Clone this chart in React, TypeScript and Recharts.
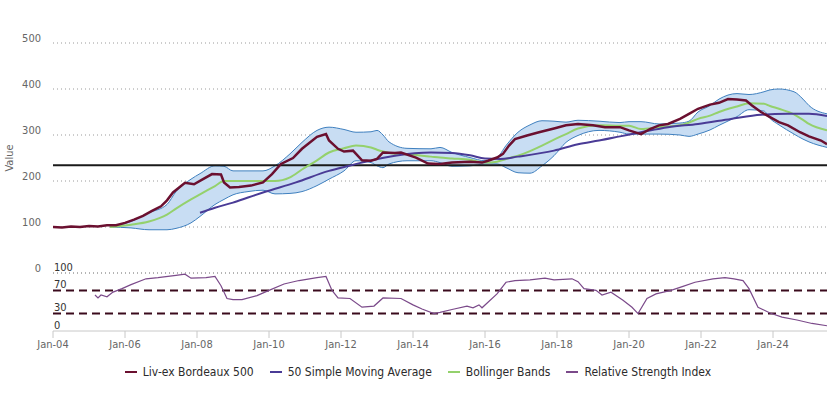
import React from "react";
import { Area, CartesianGrid, ComposedChart, Label, Legend, Line, ReferenceLine, XAxis, YAxis } from "recharts";

const FONT = '"DejaVu Sans Condensed", "DejaVu Sans", sans-serif';

// Liv-ex Bordeaux 500
const indexMonths = [
  "2004-01", "2004-04", "2004-07", "2004-10", "2005-01", "2005-04", "2005-07", "2005-10", "2006-01", "2006-04",
  "2006-07", "2006-10", "2007-01", "2007-03", "2007-05", "2007-09", "2007-12", "2008-03", "2008-06", "2008-09",
  "2008-10", "2008-12", "2009-03", "2009-07", "2009-11", "2010-02", "2010-05", "2010-09", "2010-12", "2011-05",
  "2011-08", "2011-09", "2011-12", "2012-02", "2012-05", "2012-08", "2012-11", "2013-01", "2013-03", "2013-07",
  "2013-09", "2014-02", "2014-06", "2014-10", "2015-02", "2015-08", "2015-12", "2016-02", "2016-05", "2016-07",
  "2016-09", "2016-11", "2017-03", "2017-07", "2017-12", "2018-04", "2018-08", "2019-01", "2019-05", "2019-10",
  "2020-01", "2020-05", "2020-08", "2020-11", "2021-02", "2021-06", "2021-09", "2021-12", "2022-04", "2022-07",
  "2022-10", "2023-01", "2023-04", "2023-06", "2023-09", "2023-12", "2024-03", "2024-06", "2024-10", "2025-01",
  "2025-05", "2025-07"
];
const indexValues = [
  100, 99, 101, 100, 102, 101, 104, 104, 109, 116,
  124, 135, 145, 158, 175, 196, 193, 204, 215, 214,
  197, 186, 187, 190, 197, 215, 237, 250, 270, 296,
  302, 288, 270, 264, 266, 245, 244, 248, 262, 261,
  262, 251, 238, 237, 240, 242, 240, 244, 251, 259,
  277, 291, 299, 306, 314, 321, 324, 321, 317, 317,
  310, 302, 313, 321, 324, 335, 346, 357, 366, 370,
  378, 377, 375, 364, 350, 339, 328, 321, 306, 297,
  288, 280
];

// 50 Simple Moving Average
const smaMonths = [
  "2008-02", "2008-07", "2009-01", "2009-06", "2009-11", "2010-10", "2011-09", "2012-03", "2012-08", "2013-07",
  "2014-07", "2015-02", "2015-08", "2016-01", "2016-06", "2016-12", "2017-12", "2018-08", "2019-03", "2019-10",
  "2020-05", "2021-02", "2021-12", "2022-11", "2023-09", "2024-06", "2025-01", "2025-07"
];
const smaValues = [
  131, 142, 153, 164, 175, 197, 222, 232, 240, 255,
  262, 261, 256, 249, 248, 253, 266, 280, 288, 297,
  306, 317, 324, 335, 344, 346, 346, 341
];

// Bollinger Bands
const bandMonths = [
  "2005-08", "2006-03", "2006-09", "2007-03", "2007-06", "2007-11", "2008-02", "2008-07", "2008-10", "2009-01",
  "2009-06", "2009-11", "2010-03", "2010-08", "2010-12", "2011-05", "2011-09", "2012-02", "2012-06", "2012-11",
  "2013-01", "2013-03", "2013-05", "2013-11", "2014-07", "2014-10", "2015-02", "2015-08", "2016-01", "2016-05",
  "2016-08", "2016-12", "2017-04", "2017-08", "2017-12", "2018-04", "2018-08", "2019-03", "2019-10", "2020-01",
  "2020-05", "2020-11", "2021-06", "2021-09", "2021-12", "2022-04", "2022-07", "2023-01", "2023-05", "2023-10",
  "2023-12", "2024-03", "2024-08", "2024-11", "2025-01", "2025-07"
];
const bandLower = [
  100, 98, 94, 94, 97, 109, 123, 149, 160, 170,
  177, 180, 172, 173, 177, 190, 204, 222, 244, 240,
  233, 229, 237, 244, 244, 240, 232, 233, 237, 237,
  229, 218, 217, 233, 255, 284, 299, 310, 306, 302,
  302, 302, 300, 297, 302, 311, 321, 340, 355, 352,
  336, 322, 302, 291, 285, 273
];
const bandMiddle = [
  100, 105, 112, 127, 140, 160, 171, 189, 200, 200,
  200, 200, 200, 208, 225, 245, 262, 271, 277, 273,
  268, 264, 261, 258, 253, 251, 249, 246, 240, 242,
  248, 255, 265, 277, 290, 302, 314, 321, 320, 320,
  313, 317, 321, 327, 335, 342, 350, 362, 369, 368,
  363, 357, 345, 333, 324, 310
];
const bandUpper = [
  100, 112, 131, 149, 177, 204, 216, 233, 232, 222,
  222, 222, 233, 259, 284, 310, 317, 312, 306, 307,
  310, 300, 285, 271, 270, 273, 262, 251, 244, 251,
  277, 306, 322, 331, 330, 328, 332, 330, 327, 329,
  329, 324, 326, 330, 350, 364, 378, 390, 388, 394,
  398, 400, 394, 378, 364, 346
];

// Relative Strength Index
const rsiMonths = [
  "2005-03", "2005-04", "2005-05", "2005-07", "2005-09", "2005-12", "2006-03", "2006-08", "2006-12", "2007-06",
  "2007-09", "2007-11", "2008-04", "2008-07", "2008-09", "2008-11", "2009-01", "2009-04", "2009-09", "2010-01",
  "2010-06", "2010-11", "2011-05", "2011-08", "2011-10", "2011-12", "2012-04", "2012-08", "2012-12", "2013-03",
  "2013-09", "2014-01", "2014-04", "2014-08", "2014-10", "2015-02", "2015-07", "2015-09", "2015-11", "2015-12",
  "2016-05", "2016-08", "2016-11", "2017-04", "2017-09", "2017-12", "2018-06", "2018-08", "2018-10", "2019-02",
  "2019-04", "2019-07", "2019-11", "2020-02", "2020-04", "2020-07", "2020-10", "2021-03", "2021-07", "2021-11",
  "2022-05", "2022-09", "2022-12", "2023-03", "2023-05", "2023-08", "2023-12", "2024-04", "2024-09", "2025-02",
  "2025-07"
];
const rsiValues = [
  62, 57, 62, 59, 67, 73, 80, 90, 92, 96,
  98, 91, 92, 94, 78, 56, 54, 54, 61, 70,
  81, 87, 92, 94, 70, 57, 56, 41, 43, 57,
  56, 45, 38, 30, 32, 37, 43, 40, 45, 40,
  64, 84, 87, 88, 91, 88, 90, 85, 73, 70,
  62, 67, 53, 41, 30, 56, 64, 70, 77, 84,
  90, 92, 90, 87, 73, 41, 31, 24, 19, 13,
  9
];

const xTickMonths = [
  "2004-01", "2006-01", "2008-01", "2010-01", "2012-01", "2014-01",
  "2016-01", "2018-01", "2020-01", "2022-01", "2024-01"
];
const valueTicks = [0, 100, 200, 300, 400, 500];
const rsiTicks = [0, 30, 70, 100];
const rsiLevels = [70, 30];
const baseline = 234;
const seriesNames = ["Liv-ex Bordeaux 500", "50 Simple Moving Average", "Bollinger Bands", "Relative Strength Index"];

const colors = {
  index: "#6b1030",
  sma: "#4a3b96",
  mid: "#94d16c",
  bandFill: "#c8ddf3",
  bandLine: "#3f80bf",
  rsi: "#7b4a8a",
  levels: "#3a0a1c",
  grid: "#9a9a9a"
};
const legendColors = [colors.index, colors.sma, colors.mid, colors.rsi];

const toYear = (m: string) => {
  const [y, mo] = m.split("-").map(Number);
  return y + (mo - 1) / 12;
};
const shortLabel = (t: number) => {
  const y = Math.round(t) % 100;
  return `Jan-${String(y).padStart(2, "0")}`;
};

const X_DOMAIN: [number, number] = [2004, 2025.5];

const indexData = indexMonths.map((m, i) => ({ t: toYear(m), value: indexValues[i] }));
const smaData = smaMonths.map((m, i) => ({ t: toYear(m), value: smaValues[i] }));
const bandData = bandMonths.map((m, i) => ({
  t: toYear(m),
  band: [bandLower[i], bandUpper[i]],
  mid: bandMiddle[i]
}));
const rsiData = rsiMonths.map((m, i) => ({ t: toYear(m), value: rsiValues[i] }));
const xTicks = xTickMonths.map(toYear);

function ValueTick({ x, y, payload }: any) {
  return (
    <text x={x} y={y - 5} textAnchor="end" dominantBaseline="central" fill="#666" fontSize={11} fontFamily={FONT}>
      {payload.value}
    </text>
  );
}

function RsiTick({ x, y, payload }: any) {
  return (
    <text x={x + 1} y={y - 6} textAnchor="start" dominantBaseline="central" fill="#333" fontSize={11} fontFamily={FONT}>
      {payload.value}
    </text>
  );
}

function ValueLabel({ viewBox }: any) {
  const cx = viewBox.x + 9;
  const cy = viewBox.y + viewBox.height / 2;
  return (
    <text
      x={cx}
      y={cy}
      transform={`rotate(-90, ${cx}, ${cy})`}
      textAnchor="middle"
      dominantBaseline="central"
      fill="#666"
      fontSize={11}
      fontFamily={FONT}
    >
      Value
    </text>
  );
}

function LegendRow() {
  return (
    <div
      style={{
        display: "flex",
        justifyContent: "center",
        alignItems: "center",
        gap: 16,
        fontFamily: FONT,
        fontSize: 12,
        color: "#2b2b2b",
        height: 16
      }}
    >
      {seriesNames.map((name, i) => (
        <div key={name} style={{ display: "flex", alignItems: "center" }}>
          <span style={{ display: "inline-block", width: 12, height: 2, background: legendColors[i], marginRight: 6 }} />
          {name}
        </div>
      ))}
    </div>
  );
}

export default function App() {
  return (
    <div style={{ position: "absolute", left: 0, top: 0, width: 836, height: 396, background: "#fff" }}>
      <div style={{ position: "absolute", left: 0, top: 0 }}>
        <ComposedChart width={836} height={280} margin={{ top: 43, right: 9, bottom: 7, left: 0 }}>
          <CartesianGrid vertical={false} stroke={colors.grid} strokeDasharray="1 3" />
          <XAxis type="number" dataKey="t" domain={X_DOMAIN} allowDataOverflow hide />
          <YAxis
            type="number"
            width={53}
            domain={[0, 500]}
            ticks={valueTicks}
            interval={0}
            axisLine={false}
            tickLine={false}
            tickSize={0}
            tickMargin={12}
            tick={<ValueTick />}
          >
            <Label content={<ValueLabel />} />
          </YAxis>
          <Area
            data={bandData}
            dataKey="band"
            type="monotone"
            stroke={colors.bandLine}
            strokeWidth={1}
            fill={colors.bandFill}
            fillOpacity={1}
            isAnimationActive={false}
          />
          <ReferenceLine y={baseline} stroke="#1a1a1a" strokeWidth={2} />
          <Line
            data={bandData}
            dataKey="mid"
            type="monotone"
            stroke={colors.mid}
            strokeWidth={2}
            dot={false}
            isAnimationActive={false}
          />
          <Line
            data={smaData}
            dataKey="value"
            type="monotone"
            stroke={colors.sma}
            strokeWidth={2}
            dot={false}
            isAnimationActive={false}
          />
          <Line
            data={indexData}
            dataKey="value"
            type="linear"
            stroke={colors.index}
            strokeWidth={2.5}
            dot={false}
            isAnimationActive={false}
          />
        </ComposedChart>
      </div>
      <div style={{ position: "absolute", left: 0, top: 255 }}>
        <ComposedChart width={836} height={141} margin={{ top: 18, right: 9, bottom: 35, left: 0 }}>
          <XAxis
            type="number"
            dataKey="t"
            domain={X_DOMAIN}
            allowDataOverflow
            ticks={xTicks}
            interval={0}
            tickFormatter={shortLabel}
            height={30}
            stroke="#c8c8c8"
            tickSize={7}
            tick={{ fill: "#666", fontSize: 11, fontFamily: FONT }}
          />
          <YAxis
            type="number"
            width={53}
            domain={[0, 100]}
            ticks={rsiTicks}
            interval={0}
            axisLine={false}
            tickLine={false}
            tickSize={0}
            tickMargin={0}
            tick={<RsiTick />}
          />
          <ReferenceLine y={100} stroke={colors.grid} strokeDasharray="1 3" />
          {rsiLevels.map((lvl) => (
            <ReferenceLine key={lvl} y={lvl} stroke={colors.levels} strokeWidth={2} strokeDasharray="8 5" />
          ))}
          <Line
            data={rsiData}
            dataKey="value"
            type="linear"
            stroke={colors.rsi}
            strokeWidth={1.2}
            dot={false}
            isAnimationActive={false}
          />
          <Legend
            layout="horizontal"
            verticalAlign="middle"
            align="center"
            wrapperStyle={{ top: 109, left: 0, width: 836 }}
            content={<LegendRow />}
          />
        </ComposedChart>
      </div>
    </div>
  );
}
